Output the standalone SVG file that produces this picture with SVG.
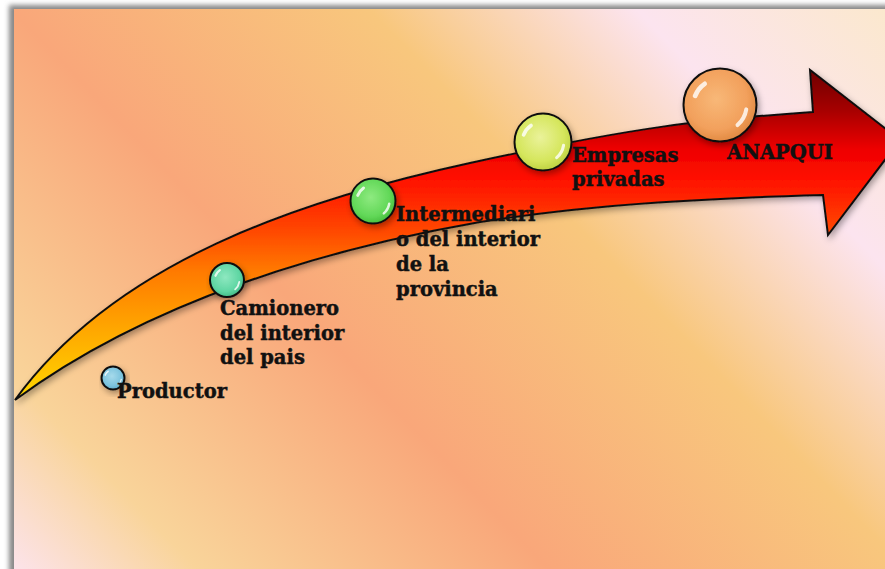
<svg xmlns="http://www.w3.org/2000/svg" xmlns:xlink="http://www.w3.org/1999/xlink" width="885" height="569" viewBox="0 0 885 569">
<style>
.lbl{font-family:"DejaVu Serif","Liberation Serif",serif;font-weight:bold;font-size:19.5px;fill:#111;stroke:#111;stroke-width:0.45px}
.ball{stroke:#111;stroke-width:2}
.gloss{fill:none;stroke:#fff;stroke-linecap:round;stroke-opacity:0.8}
</style>
<defs>
<linearGradient id="bg" gradientUnits="userSpaceOnUse" x1="14" y1="569" x2="746" y2="-133">
<stop offset="0" stop-color="#FCE3EA"/>
<stop offset="0.13" stop-color="#F9D49A"/>
<stop offset="0.38" stop-color="#F9A77A"/>
<stop offset="0.635" stop-color="#F8C77D"/>
<stop offset="0.825" stop-color="#FCE4EF"/>
<stop offset="1" stop-color="#FBE8CE"/>
</linearGradient>
<linearGradient id="arrowFill" gradientUnits="userSpaceOnUse" x1="0" y1="70" x2="0" y2="400">
<stop offset="0" stop-color="#6E0000"/>
<stop offset="0.12" stop-color="#A50000"/>
<stop offset="0.24" stop-color="#EE0000"/>
<stop offset="0.33" stop-color="#FF1000"/>
<stop offset="0.48" stop-color="#FF4500"/>
<stop offset="0.61" stop-color="#FF7A00"/>
<stop offset="0.79" stop-color="#FFA800"/>
<stop offset="1" stop-color="#FFD800"/>
</linearGradient>
<radialGradient id="gBlue" cx="0.45" cy="0.42" r="0.6">
<stop offset="0" stop-color="#A6DAEB"/><stop offset="0.7" stop-color="#7CC3DD"/><stop offset="1" stop-color="#5CA9C8"/>
</radialGradient>
<radialGradient id="gMint" cx="0.45" cy="0.42" r="0.6">
<stop offset="0" stop-color="#8EE8C0"/><stop offset="0.7" stop-color="#5FD6A3"/><stop offset="1" stop-color="#3FB885"/>
</radialGradient>
<radialGradient id="gGreen" cx="0.45" cy="0.42" r="0.6">
<stop offset="0" stop-color="#8EEA80"/><stop offset="0.7" stop-color="#62D858"/><stop offset="1" stop-color="#45BD3C"/>
</radialGradient>
<radialGradient id="gLime" cx="0.45" cy="0.42" r="0.6">
<stop offset="0" stop-color="#EAF29A"/><stop offset="0.7" stop-color="#D5E65C"/><stop offset="1" stop-color="#BCD040"/>
</radialGradient>
<radialGradient id="gOrange" cx="0.45" cy="0.42" r="0.6">
<stop offset="0" stop-color="#F8B878"/><stop offset="0.7" stop-color="#F2A05C"/><stop offset="1" stop-color="#E08840"/>
</radialGradient>
<filter id="frameShadow" x="-5%" y="-5%" width="110%" height="110%">
<feGaussianBlur stdDeviation="2.5"/>
</filter>
<filter id="softShadow" x="-10%" y="-10%" width="130%" height="140%">
<feDropShadow dx="2" dy="3" stdDeviation="3" flood-color="#000" flood-opacity="0.35"/>
</filter>
<g id="gloss">
<path class="gloss" d="M-0.68,-0.25 A0.72,0.72 0 0 1 -0.42,-0.58" stroke-width="0.13"/>
<path class="gloss" d="M0.72,0.12 A0.73,0.73 0 0 1 0.48,0.55" stroke-width="0.11"/>
</g>
</defs>

<g id="background">
<rect x="9" y="5" width="890" height="580" fill="#888" filter="url(#frameShadow)"/>
<rect x="14" y="9" width="880" height="570" fill="url(#bg)"/>
</g>

<g id="connectors">
<path filter="url(#softShadow)" fill="url(#arrowFill)" stroke="#111" stroke-width="2" stroke-linejoin="miter"
 d="M15,400 C115,262 300,200 470,163 C640,126 700,120 813,112 L810,70 L900,140 L828,235 L823,195 C720,198 600,203 480,222 C330,248 150,300 15,400 Z"/>
</g>

<g id="node-productor">
<circle class="ball" cx="113" cy="378" r="11.5" fill="url(#gBlue)" filter="url(#softShadow)"/>
<use xlink:href="#gloss" href="#gloss" transform="translate(113,378) scale(11.5)"/>
<text class="lbl" x="117" y="398">Productor</text>
</g>

<g id="node-camionero">
<circle class="ball" cx="227" cy="280" r="17" fill="url(#gMint)" filter="url(#softShadow)"/>
<use xlink:href="#gloss" href="#gloss" transform="translate(227,280) scale(17)"/>
<text class="lbl" x="220" y="315">Camionero</text>
<text class="lbl" x="220" y="340">del interior</text>
<text class="lbl" x="220" y="364">del pais</text>
</g>

<g id="node-intermediario">
<circle class="ball" cx="373" cy="201" r="22.5" fill="url(#gGreen)" filter="url(#softShadow)"/>
<use xlink:href="#gloss" href="#gloss" transform="translate(373,201) scale(22.5)"/>
<text class="lbl" x="396" y="221">Intermediari</text>
<text class="lbl" x="396" y="246">o del interior</text>
<text class="lbl" x="396" y="271">de la</text>
<text class="lbl" x="396" y="296">provincia</text>
</g>

<g id="node-empresas">
<circle class="ball" cx="543" cy="142" r="28.5" fill="url(#gLime)" filter="url(#softShadow)"/>
<use xlink:href="#gloss" href="#gloss" transform="translate(543,142) scale(28.5)"/>
<text class="lbl" x="572" y="162">Empresas</text>
<text class="lbl" x="572" y="186">privadas</text>
</g>

<g id="node-anapqui">
<circle class="ball" cx="720" cy="105" r="36.5" fill="url(#gOrange)" filter="url(#softShadow)"/>
<use xlink:href="#gloss" href="#gloss" transform="translate(720,105) scale(36.5)"/>
<text class="lbl" x="727" y="159">ANAPQUI</text>
</g>
</svg>
